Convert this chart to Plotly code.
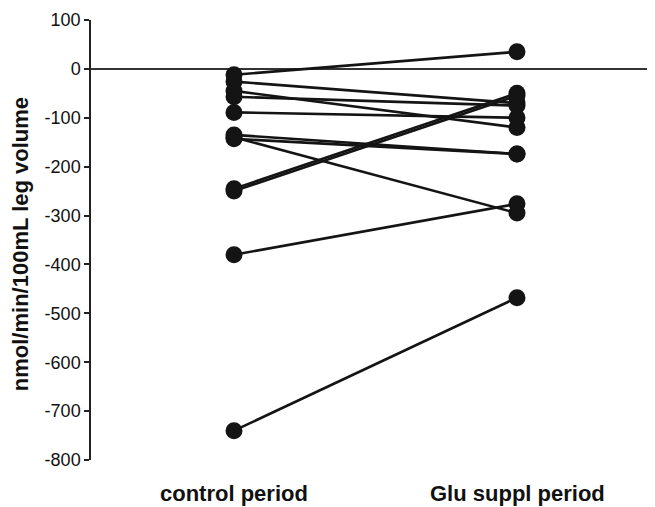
import plotly.graph_objects as go

# Data
periods = ["control period", "Glu suppl period"]
control = [-12, -26, -45, -57, -89, -135, -143, -140, -245, -250, -380, -740]
glu_suppl = [35, -70, -120, -75, -100, -174, -174, -295, -50, -55, -276, -468]
y_ticks = [100, 0, -100, -200, -300, -400, -500, -600, -700, -800]
y_title = "nmol/min/100mL leg volume"

FONT = "Liberation Sans, Arial, Helvetica, sans-serif"
INK = "#141414"

fig = go.Figure()
for c, g in zip(control, glu_suppl):
    fig.add_trace(go.Scatter(
        x=[0, 1], y=[c, g], mode="lines+markers",
        line=dict(color=INK, width=2.6),
        marker=dict(color=INK, size=17),
        showlegend=False, hoverinfo="skip", cliponaxis=False,
    ))

# The page body has an 8px default margin, so the figure is sized to fit.
fig.update_layout(
    width=647, height=499,
    margin=dict(l=83, r=0, t=12, b=47),
    paper_bgcolor="white", plot_bgcolor="white",
    font=dict(family=FONT, color="#111"),
    xaxis=dict(range=[-0.5053, 1.4876], showgrid=False, zeroline=False,
               showline=False, showticklabels=False, ticks=""),
    yaxis=dict(range=[-800, 100], tickvals=y_ticks,
               ticktext=[str(v) for v in y_ticks],
               showgrid=False, showline=True, linecolor="#222", linewidth=1.5,
               ticks="outside", ticklen=5, tickwidth=1.5, tickcolor="#222",
               tickfont=dict(size=18, family=FONT, color="#111"),
               zeroline=True, zerolinecolor="#333", zerolinewidth=1.6),
)

for i, name in enumerate(periods):
    fig.add_annotation(x=i, xref="x", y=-0.077, yref="paper",
                       text=f"<b>{name}</b>", showarrow=False,
                       xanchor="center", yanchor="middle",
                       font=dict(size=22, family=FONT, color="#111"))

fig.add_annotation(x=-0.1245, xref="paper", y=0.49, yref="paper",
                   text=f"<b>{y_title}</b>", textangle=-90, showarrow=False,
                   xanchor="center", yanchor="middle", borderpad=0,
                   font=dict(size=22, family=FONT, color="#111"))

fig.write_html("out.html")
